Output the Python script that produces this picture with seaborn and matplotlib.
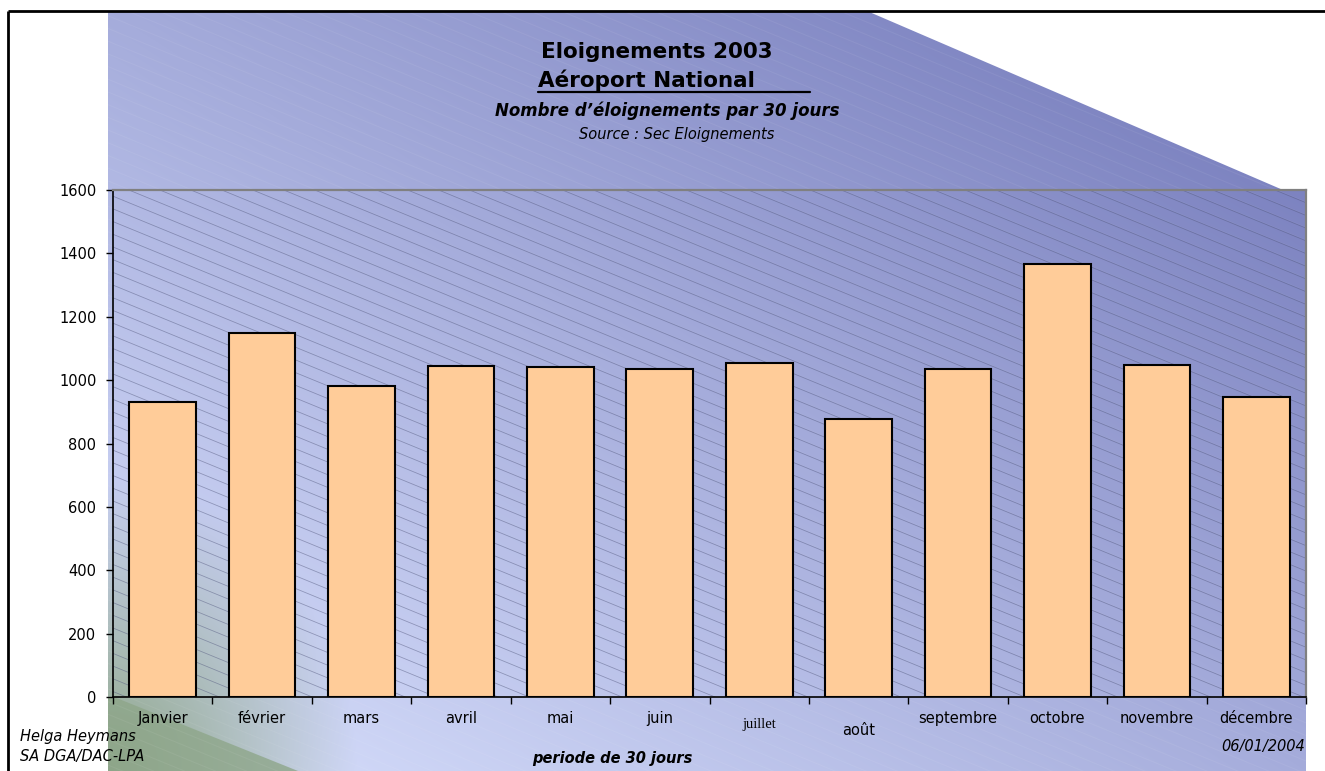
import numpy as np
import pandas as pd
import matplotlib
matplotlib.use("Agg")
import matplotlib.pyplot as plt
import seaborn as sns
from matplotlib.patches import Polygon, Rectangle
from matplotlib.collections import LineCollection
from matplotlib.transforms import ScaledTranslation

# Monthly removals, 2003
mois = ["Janvier", "février", "mars", "avril", "mai", "juin",
        "juillet", "août", "septembre", "octobre", "novembre", "décembre"]
eloignements = [930, 1150, 980, 1044, 1041, 1035, 1054, 876, 1035, 1367, 1049, 946]
graduations = [0, 200, 400, 600, 800, 1000, 1200, 1400, 1600]

titre = "Eloignements 2003"
sous_titre = "Aéroport National"
description = "Nombre d\u2019éloignements par 30 jours"
source = "Source : Sec Eloignements"
auteur = ["Helga Heymans", "SA DGA/DAC-LPA"]
axe_x = "periode de 30 jours"
date = "06/01/2004"

df = pd.DataFrame({"mois": mois, "n": eloignements})

sns.set_theme(style="white")
plt.rcParams["font.family"] = ["DejaVu Sans"]
plt.rcParams["text.color"] = "black"
plt.rcParams["xtick.color"] = "black"
plt.rcParams["ytick.color"] = "black"
plt.rcParams["axes.labelcolor"] = "black"

W, H = 1325, 771
fig = plt.figure(figsize=(W / 100, H / 100), dpi=100)
fig.patch.set_facecolor("white")

# ---- decorative backdrop, in pixel coordinates ----
bg = fig.add_axes([0, 0, 1, 1], zorder=0)
bg.set_xlim(0, W)
bg.set_ylim(H, 0)
bg.axis("off")

yy, xx = np.mgrid[0:H, 0:W] + 0.5
t = np.clip(0.5 * (xx - 108) / 1198 + 0.5 * (771 - yy) / 760, 0, 1)
light = np.array([218, 226, 254]) / 255
dark = np.array([112, 118, 184]) / 255
img = light * (1 - t)[..., None] + dark * t[..., None]
green = np.array([140, 164, 134]) / 255
w = np.clip(1 - np.sqrt(((xx - 108) / 250) ** 2 + ((771 - yy) / 290) ** 2), 0, 1)
img = img * (1 - w[..., None]) + green * w[..., None]

sheet = Polygon([(108, 11), (867, 11), (1283, 190), (1306, 190), (1306, 771), (108, 771)],
                closed=True, facecolor="none", edgecolor="none", transform=bg.transData)
bg.add_patch(sheet)
im = bg.imshow(img, extent=[0, W, H, 0], interpolation="bilinear", zorder=1, aspect="auto")
im.set_clip_path(sheet)

# folded corner below the axis
fold = Polygon([(108, 697), (114, 697), (298, 771), (108, 771)], closed=True,
               facecolor="#8ea68a", edgecolor="none", alpha=0.8, zorder=2)
bg.add_patch(fold)

# faint light streaks over the whole sheet
slope = 0.41
segs = [[(0, y0), (W, y0 + slope * W)] for y0 in np.arange(-600, 800, 12.7)]
streaks = LineCollection(segs, colors="white", linewidths=0.8, alpha=0.06, zorder=3)
bg.add_collection(streaks)
streaks.set_clip_path(sheet)

# hatching inside the plot area
plot_rect = Rectangle((113, 190), 1193, 507, facecolor="none", edgecolor="none",
                      transform=bg.transData)
bg.add_patch(plot_rect)
hatch = LineCollection([[(113, y0), (1306, y0 + slope * 1193)]
                        for y0 in np.arange(190 - slope * 1193, 700, 12.7)],
                       colors="#4a5078", linewidths=0.6, alpha=0.45, zorder=4)
bg.add_collection(hatch)
hatch.set_clip_path(plot_rect)

# outer frame
bg.plot([8, W + 5], [11, 11], color="black", lw=2, zorder=6, solid_capstyle="butt")
bg.plot([8, 8], [11, H + 5], color="black", lw=2, zorder=6, solid_capstyle="butt")

# ---- chart ----
ax = fig.add_axes([113 / W, (H - 697) / H, (1306 - 113) / W, (697 - 190) / H], zorder=2)
ax.patch.set_alpha(0)
sns.barplot(data=df, x="mois", y="n", order=mois, ax=ax, color="#FFCC99", saturation=1,
            edgecolor="black", linewidth=1.5, width=0.67)
ax.set_xlim(-0.5, len(mois) - 0.5)
ax.set_ylim(graduations[0], graduations[-1])
ax.set_yticks(graduations)
ax.set_xlabel("")
ax.set_ylabel("")

for side in ["top", "right"]:
    ax.spines[side].set_color("#808080")
    ax.spines[side].set_linewidth(1.6)
for side in ["left", "bottom"]:
    ax.spines[side].set_color("black")
    ax.spines[side].set_linewidth(1.2)

ax.tick_params(axis="y", left=True, length=5, width=1, color="black", direction="out",
               pad=7, labelsize=10.5, labelcolor="black")
ax.set_xticks(np.arange(-0.5, len(mois), 1), minor=True)
ax.tick_params(axis="x", which="minor", bottom=True, length=5, width=1, color="black", direction="out")
ax.tick_params(axis="x", which="major", bottom=True, length=0, pad=10, labelsize=10.5, labelcolor="black")

for lab in ax.get_xticklabels():
    txt = lab.get_text()
    if txt == "juillet":
        lab.set_fontfamily(["Liberation Serif"])
        lab.set_fontsize(10.5)
        lab.set_transform(lab.get_transform() + ScaledTranslation(0, -7 / 100, fig.dpi_scale_trans))
    elif txt == "août":
        lab.set_transform(lab.get_transform() + ScaledTranslation(0, -12 / 100, fig.dpi_scale_trans))

# ---- titles and notes ----
bg.text(657, 52, titre, ha="center", va="center", fontsize=15.5, fontweight="bold", zorder=7)
bg.text(538, 80, sous_titre, ha="left", va="center", fontsize=15.5, fontweight="bold", zorder=7)
bg.plot([538, 810], [92, 92], color="black", lw=1.6, zorder=7)
bg.text(667, 111, description, ha="center", va="center", fontsize=12, fontweight="bold",
        fontstyle="italic", zorder=7)
bg.text(677, 134, source, ha="center", va="center", fontsize=10.5, fontstyle="italic", zorder=7)

bg.text(20, 737, auteur[0], ha="left", va="center", fontsize=10.5, fontstyle="italic", zorder=7)
bg.text(20, 757, auteur[1], ha="left", va="center", fontsize=10.5, fontstyle="italic", zorder=7)
bg.text(612, 758, axe_x, ha="center", va="center", fontsize=10.5, fontweight="bold",
        fontstyle="italic", zorder=7)
bg.text(1305, 747, date, ha="right", va="center", fontsize=10.5, fontstyle="italic", zorder=7)

fig.savefig("out.png", dpi=100)
